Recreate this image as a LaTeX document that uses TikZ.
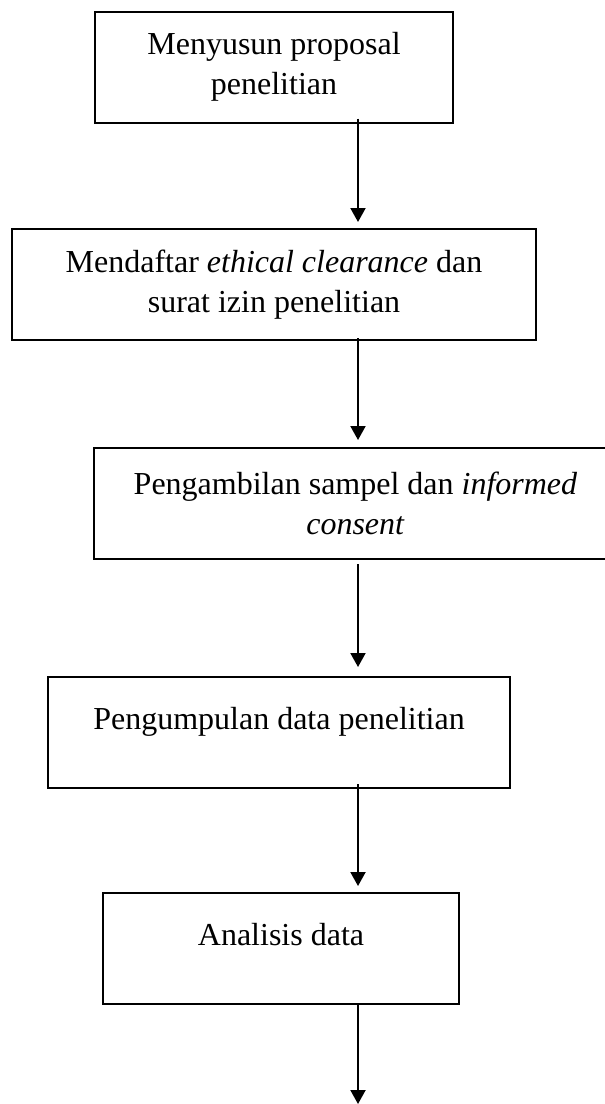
\documentclass[tikz,border=0pt]{standalone}
\usepackage{fontspec}
\setmainfont{Liberation Serif}
\usetikzlibrary{arrows.meta, positioning, calc}

\begin{document}
\begin{tikzpicture}[>={Triangle[length=7pt,width=7.5pt]}, line width=1pt,
        every node/.style={font=\fontsize{16pt}{20pt}\selectfont},
        stepbox/.style={draw,rectangle,align=center,minimum height=55.5pt,inner sep=0pt},
        onebox/.style={text height=11pt,text depth=14pt}]
        % page frame
        \useasboundingbox (0,0) rectangle (302.5pt,-552pt);
        % steps of the study
        \node[stepbox,minimum width=179pt]   (prop)  at (137pt,-33.5pt)    {Menyusun proposal\\penelitian};
        \node[stepbox,minimum width=262pt]   (izin)  at (137pt,-142.25pt)  {Mendaftar \textit{ethical clearance} dan\\surat izin penelitian};
        \node[stepbox,minimum width=261.5pt] (sampel) at (177.75pt,-251.75pt) {Pengambilan sampel dan \textit{informed}\\\textit{consent}};
        \node[stepbox,onebox,minimum width=231pt] (data)  at (139.5pt,-366.25pt) {Pengumpulan data penelitian};
        \node[stepbox,onebox,minimum width=178pt] (anal)  at (140.5pt,-474.25pt) {Analisis data};
        % arrow column and loose end
        \coordinate (ax)  at (179pt,0);
        \coordinate (end) at (179pt,-552pt);
        % arrows
        \draw[->,shorten >=3pt] ([yshift=2.5pt]prop.south -| ax) -- (izin.north -| ax);
        \draw[->,shorten >=3.5pt] ([yshift=1.5pt]izin.south -| ax) -- (sampel.north -| ax);
        \draw[->,shorten >=4.5pt,shorten <=2pt] (sampel.south -| ax) -- (data.north -| ax);
        \draw[->,shorten >=3pt] ([yshift=2.5pt]data.south -| ax) -- (anal.north -| ax);
        \draw[->] (anal.south -| ax) -- (end);
    \end{tikzpicture}
\end{document}
